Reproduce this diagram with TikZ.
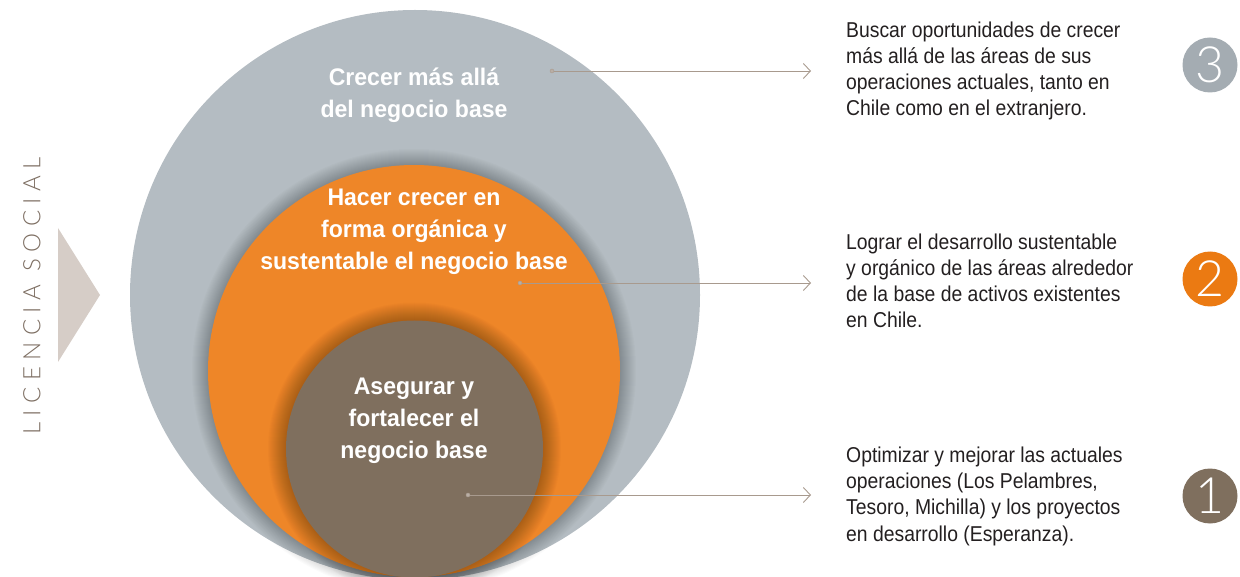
\documentclass[tikz,border=0pt]{standalone}
\usepackage{fontspec}
\usetikzlibrary{arrows.meta}
\setmainfont{Liberation Sans}
\newfontfamily\condreg[FakeStretch=0.9]{Liberation Sans}
\newfontfamily\condbold[FakeStretch=0.96]{Liberation Sans Bold}
\newfontfamily\thinfont{Lato Light}
\newfontfamily\thinspaced[LetterSpace=27]{Lato Light}
\definecolor{graycirc}{HTML}{B4BCC2}
\definecolor{orangecirc}{HTML}{EE8628}
\definecolor{browncirc}{HTML}{7F6F5E}
\definecolor{numgray}{HTML}{A4ACB2}
\definecolor{numorange}{HTML}{EB7A12}
\definecolor{numbrown}{HTML}{7F6F5E}
\definecolor{arrowc}{HTML}{A89A8E}
\definecolor{trianglec}{HTML}{D6CDC7}
\definecolor{licc}{HTML}{7D6E62}
\definecolor{bodytext}{HTML}{231F20}
\tikzset{
  bigcirc/.style={circle,inner sep=0pt,draw=none},
  ctext/.style={text=white,align=center,font=\condbold\fontsize{24}{32}\selectfont,inner sep=0pt},
  rtext/.style={text=bodytext,align=left,font=\condreg\fontsize{21.5}{26.3}\selectfont,inner sep=0pt},
  numc/.style={circle,inner sep=0pt,minimum size=55pt,text=white,font=\thinfont\fontsize{50}{50}\selectfont},
  conn/.style={draw=arrowc,line width=0.9pt,-{Straight Barb[length=7pt,width=15pt,line width=0.9pt]}},
  dotc/.style={fill=arrowc!80!white,draw=arrowc,line width=0.4pt},
}
\begin{document}
\begin{tikzpicture}[x=1pt,y=-1pt]
\useasboundingbox (0,0) rectangle (1240,577);
% outer circle
\node[bigcirc,fill=graycirc,minimum size=570pt] (outer) at (415,295) {};
% shadow of orange circle
\foreach \k in {1,...,16}{
  \fill[black,opacity=0.017] (414,371) circle[radius={206+\k}];
}
\node[bigcirc,fill=orangecirc,minimum size=412pt] (middle) at (414,371) {};
% shadow of brown circle
\foreach \k in {1,...,18}{
  \fill[black,opacity=0.017] (414.5,449) circle[radius={128.5+\k}];
}
\node[bigcirc,fill=browncirc,minimum size=257pt] (inner) at (414.5,449) {};
% circle labels (base = baseline of last line)
\node[ctext,anchor=base] (l3) at (414,118) {Crecer más allá\\del negocio base};
\node[ctext,anchor=base] (l2) at (414,270) {Hacer crecer en\\forma orgánica y\\sustentable el negocio base};
\node[ctext,anchor=base] (l1) at (414,458) {Asegurar y\\fortalecer el\\negocio base};
% connectors
\coordinate (s3) at (552,71);
\coordinate (e3) at (811,71);
\coordinate (s2) at (520,283);
\coordinate (e2) at (811,283);
\coordinate (s1) at (468,495);
\coordinate (e1) at (811,495);
\draw[conn] (s3) -- (e3);
\draw[conn] (s2) -- (e2);
\draw[conn] (s1) -- (e1);
\fill[dotc] (s3) circle[radius=2pt];
\fill[dotc] (s2) circle[radius=2pt];
\fill[dotc] (s1) circle[radius=2pt];
% right texts
\node[rtext,anchor=base west] (t3) at (846,116) {Buscar oportunidades de crecer\\más allá de las áreas de sus\\operaciones actuales, tanto en\\Chile como en el extranjero.};
\node[rtext,anchor=base west] (t2) at (846,328) {Lograr el desarrollo sustentable\\y orgánico de las áreas alrededor\\de la base de activos existentes\\en Chile.};
\node[rtext,anchor=base west] (t1) at (846,541) {Optimizar y mejorar las actuales\\operaciones (Los Pelambres,\\Tesoro, Michilla) y los proyectos\\en desarrollo (Esperanza).};
% number circles
\node[numc,fill=numgray] (n3) at (1210,65) {3};
\node[numc,fill=numorange] (n2) at (1210,279) {2};
\node[numc,fill=numbrown] (n1) at (1210,496) {1};
% left label and triangle
\node[text=licc,rotate=90,inner sep=0pt,font=\thinspaced\fontsize{24}{24}\selectfont] (lic) at (32,296) {LICENCIA SOCIAL};
\fill[trianglec] (58,228) -- (100,295) -- (58,362) -- cycle;
\end{tikzpicture}
\end{document}
